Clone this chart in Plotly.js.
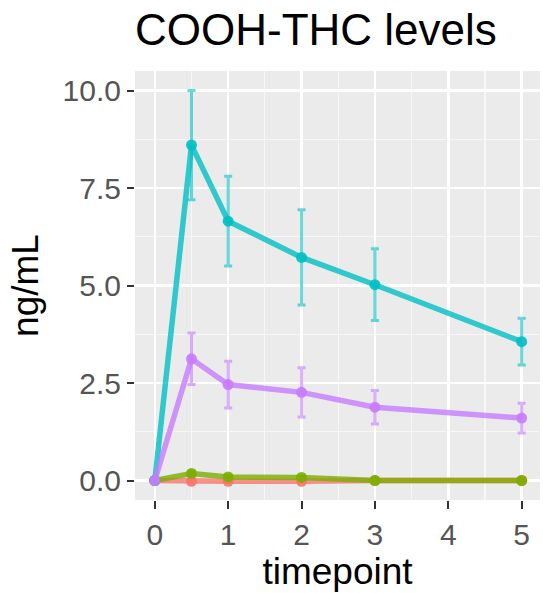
<!DOCTYPE html>
<html>
<head>
<meta charset="utf-8">
<script src="https://cdn.plot.ly/plotly-3.0.1.min.js"></script>
<style>html,body{margin:0;padding:0;background:#fff}#chart{width:543px;height:593px}</style>
</head>
<body>
<div id="chart"></div>
<script>
const timepoints = [0, 0.5, 1, 2, 3, 5];

const redValues    = [0, -0.02, -0.02, -0.02, 0.0, 0.0];
const redErr       = [0, 0.03, 0.02, 0.02, 0.0, 0.0];
const greenValues  = [0, 0.18, 0.09, 0.08, 0.0, 0.0];
const greenErr     = [0, 0.06, 0.03, 0.03, 0.0, 0.0];
const tealValues   = [0, 8.6, 6.65, 5.72, 5.02, 3.56];
const tealErr      = [0, 1.4, 1.15, 1.22, 0.92, 0.6];
const purpleValues = [0, 3.12, 2.46, 2.26, 1.88, 1.6];
const purpleErr    = [0, 0.66, 0.6, 0.63, 0.43, 0.38];

const xTicks = [0, 1, 2, 3, 4, 5];
const yTicks = [0, 2.5, 5, 7.5, 10];
const yTickLabels = ['0.0', '2.5', '5.0', '7.5', '10.0'];

function series(y, err, rgb) {
  return {
    x: timepoints, y: y, type: 'scatter', mode: 'lines+markers',
    line: {color: 'rgba(' + rgb + ',0.8)', width: 5.5},
    marker: {color: 'rgba(' + rgb + ',0.9)', size: 11},
    error_y: {type: 'data', array: err, visible: true, color: 'rgba(' + rgb + ',0.6)', thickness: 3, width: 4},
    showlegend: false, hoverinfo: 'x+y'
  };
}

const data = [
  series(redValues, redErr, '248,118,109'),
  series(greenValues, greenErr, '124,174,0'),
  series(tealValues, tealErr, '0,191,196'),
  series(purpleValues, purpleErr, '199,124,255')
];

const layout = {
  width: 543, height: 593,
  margin: {l: 135, r: 3, t: 71, b: 93},
  paper_bgcolor: '#ffffff',
  plot_bgcolor: '#EBEBEB',
  font: {family: 'Liberation Sans, Arial, sans-serif', color: '#000'},
  title: {text: 'COOH-THC levels', font: {size: 44, color: '#000'}, x: 0, xref: 'paper', xanchor: 'left', y: 0.95, yref: 'container', yanchor: 'middle'},
  xaxis: {
    range: [-0.27, 5.25], tickvals: xTicks, ticktext: xTicks.map(String),
    showgrid: true, gridcolor: '#ffffff', gridwidth: 2.5,
    minor: {dtick: 0.5, tick0: 0.5, showgrid: true, gridcolor: '#F7F7F7', gridwidth: 1.2},
    zeroline: false, showline: false,
    ticks: 'outside', ticklen: 8, tickwidth: 2, tickcolor: '#333333',
    tickfont: {size: 30, color: '#555555'},
    title: {text: 'timepoint', font: {size: 37, color: '#000'}, standoff: 6}
  },
  yaxis: {
    range: [-0.5, 10.5], tickvals: yTicks, ticktext: yTickLabels,
    showgrid: true, gridcolor: '#ffffff', gridwidth: 2.5,
    minor: {dtick: 1.25, tick0: 1.25, showgrid: true, gridcolor: '#F7F7F7', gridwidth: 1.2},
    zeroline: false, showline: false,
    ticks: 'outside', ticklen: 7, tickwidth: 2, tickcolor: '#333333',
    tickfont: {size: 30, color: '#555555'},
    title: {text: 'ng/mL', font: {size: 37, color: '#000'}, standoff: 12}
  }
};

Plotly.newPlot('chart', data, layout, {displayModeBar: false, staticPlot: true});
</script>
</body>
</html>
